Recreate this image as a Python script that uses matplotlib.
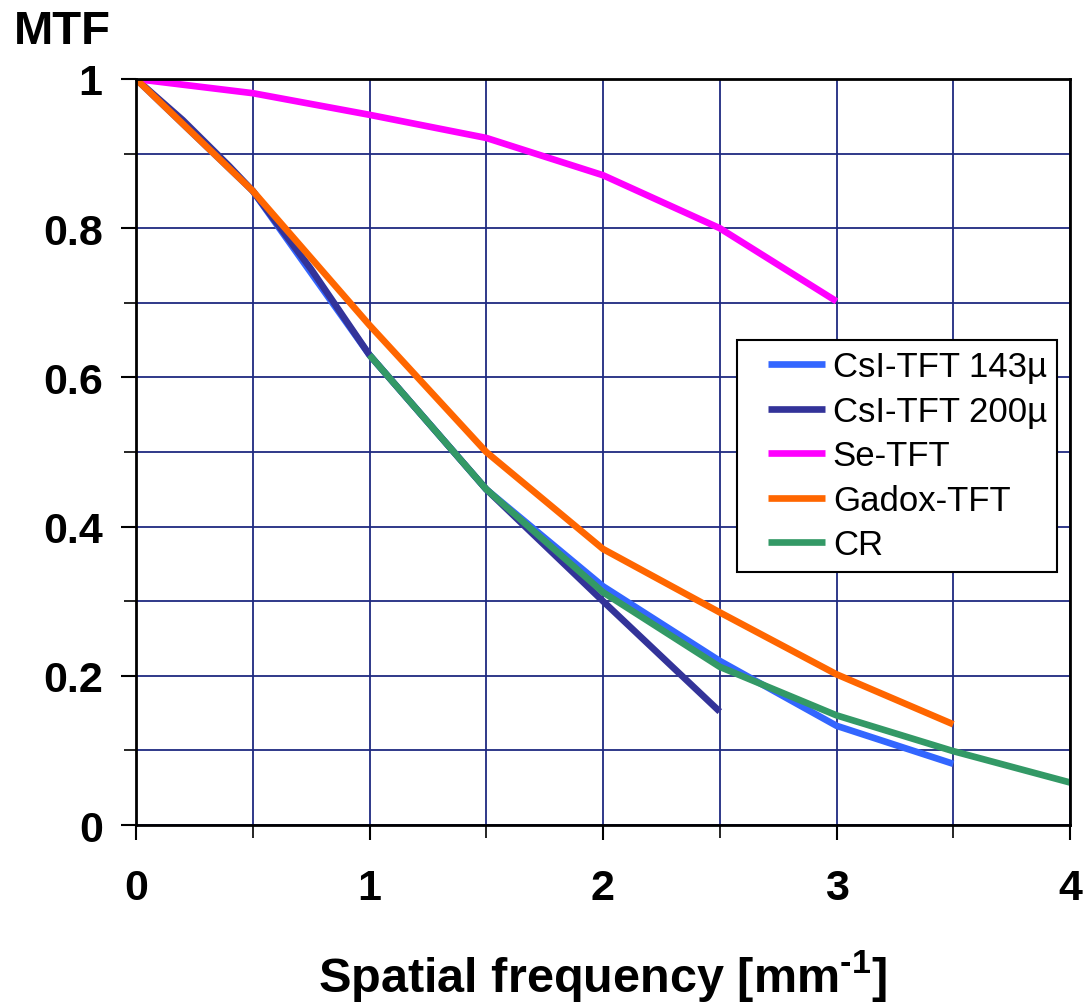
import matplotlib
matplotlib.use("Agg")
import matplotlib.pyplot as plt
from matplotlib.ticker import MultipleLocator, FixedLocator
from matplotlib.legend_handler import HandlerLine2D
from matplotlib.lines import Line2D

# MTF curves of several detector types
csi143_x = [0, 0.5, 1, 1.5, 2, 2.5, 3, 3.5]
csi143_y = [1.0, 0.85, 0.63, 0.45, 0.32, 0.22, 0.133, 0.082]

csi200_x = [0, 0.2, 0.4, 0.5, 0.75, 1, 1.5, 2, 2.5]
csi200_y = [1.0, 0.945, 0.883, 0.85, 0.745, 0.63, 0.45, 0.30, 0.152]

se_x = [0, 0.5, 1, 1.5, 2, 2.5, 3]
se_y = [1.0, 0.981, 0.952, 0.921, 0.871, 0.80, 0.702]

gadox_x = [0, 0.5, 1, 1.5, 2, 2.5, 3, 3.5]
gadox_y = [1.0, 0.85, 0.67, 0.50, 0.37, 0.285, 0.202, 0.135]

cr_x = [1, 1.5, 2, 2.5, 3, 3.5, 4]
cr_y = [0.63, 0.45, 0.312, 0.212, 0.147, 0.099, 0.057]

labels = ["CsI-TFT 143µ", "CsI-TFT 200µ", "Se-TFT", "Gadox-TFT", "CR"]
colors = ["#3366ff", "#333399", "#ff00ff", "#ff6600", "#339966"]

x_ticks = [0, 1, 2, 3, 4]
y_ticks = [0, 0.2, 0.4, 0.6, 0.8, 1]
y_tick_labels = ["0", "0.2", "0.4", "0.6", "0.8", "1"]

plt.rcParams["mathtext.fontset"] = "custom"
plt.rcParams["mathtext.rm"] = "Liberation Sans:bold"
plt.rcParams["mathtext.bf"] = "Liberation Sans:bold"

bold_family = ["Liberation Sans", "DejaVu Sans"]
regular = ["Liberation Sans", "DejaVu Sans"]


class IndentedLine(HandlerLine2D):
    """Legend line that starts a little way in from the handle box's left edge."""

    def __init__(self, indent, **kw):
        super().__init__(**kw)
        self.indent = indent

    def create_artists(self, legend, orig_handle, xdescent, ydescent, width,
                       height, fontsize, trans):
        artists = super().create_artists(legend, orig_handle, xdescent, ydescent,
                                         width, height, fontsize, trans)
        for a in artists:
            xd = list(a.get_xdata())
            if len(xd) >= 2:
                start = xd[0] + self.indent * fontsize
                a.set_xdata([start, xd[-1]])
                a.set_ydata([a.get_ydata()[0]] * 2)
        return artists


fig = plt.figure(figsize=(10.84, 10.04), dpi=100)
ax = fig.add_axes([136 / 1084, 1 - 826 / 1004, (1070 - 136) / 1084, (826 - 80) / 1004])

series = [(csi143_x, csi143_y), (csi200_x, csi200_y), (se_x, se_y),
          (gadox_x, gadox_y), (cr_x, cr_y)]
for (xs, ys), lab, col in zip(series, labels, colors):
    ax.plot(xs, ys, color=col, lw=4.8, label=lab, solid_capstyle="butt",
            solid_joinstyle="round")

ax.set_xlim(0, 4)
ax.set_ylim(0, 1)
ax.xaxis.set_major_locator(FixedLocator(x_ticks))
ax.xaxis.set_minor_locator(MultipleLocator(0.5))
ax.yaxis.set_major_locator(FixedLocator(y_ticks))
ax.yaxis.set_minor_locator(MultipleLocator(0.1))
ax.set_yticklabels(y_tick_labels)

ax.grid(True, which="both", color="#1f2a80", lw=1.3)
ax.set_axisbelow(True)

for sp in ax.spines.values():
    sp.set_color("black")
    sp.set_linewidth(2)

ax.tick_params(which="major", direction="out", length=11, width=1.5, color="black")
ax.tick_params(which="minor", direction="out", length=9, width=1.2, color="black")
ax.tick_params(axis="x", which="major", pad=20)
ax.tick_params(axis="y", which="major", pad=13)

for t in ax.get_xticklabels() + ax.get_yticklabels():
    t.set_family(bold_family)
    t.set_fontweight("bold")
    t.set_fontsize(31)

fig.text(14 / 1084, 1 - 44 / 1004, "MTF", family=bold_family, fontweight="bold",
         fontsize=34, ha="left", va="baseline")
fig.text(603 / 1084, 1 - 992 / 1004,
         r"Spatial frequency [mm$^{\text{-1}}$]",
         family=bold_family, fontweight="bold", fontsize=35, ha="center",
         va="baseline")

fs = 25
leg = ax.legend(loc="upper left",
                bbox_to_anchor=((737 - 136) / 934, (826 - 341) / 746),
                prop={"family": regular, "size": fs}, frameon=True, fancybox=False,
                edgecolor="black", framealpha=1, borderpad=0.3, labelspacing=0.33,
                handlelength=2.23, handletextpad=0.23, borderaxespad=0,
                handler_map={Line2D: IndentedLine(0.59)})
leg.get_frame().set_linewidth(1.5)

fig.savefig("out.png", dpi=100)
